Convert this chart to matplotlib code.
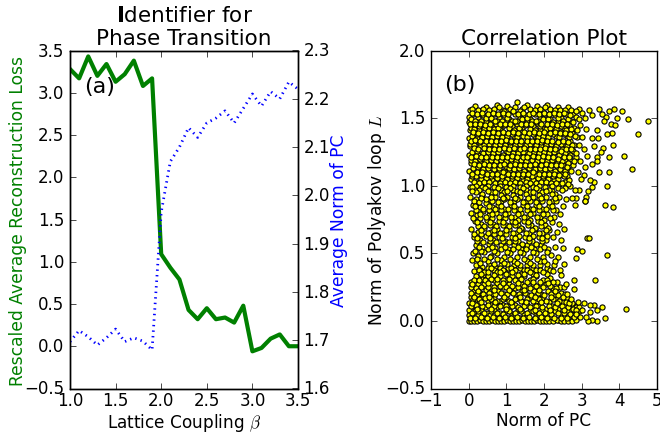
import matplotlib
matplotlib.use('Agg')
import matplotlib.pyplot as plt

beta = [1.0, 1.1, 1.2, 1.3, 1.4, 1.5, 1.6, 1.7, 1.8, 1.9, 2.0, 2.1, 2.2, 2.3, 2.4, 2.5, 2.6, 2.7, 2.8, 2.9, 3.0, 3.1, 3.2, 3.3, 3.4, 3.5]
recon_loss = [3.28, 3.17, 3.43, 3.2, 3.34, 3.13, 3.22, 3.38, 3.08, 3.17, 1.09, 0.93, 0.79, 0.43, 0.32, 0.45, 0.32, 0.34, 0.28, 0.48, -0.06, -0.02, 0.09, 0.14, 0.0, 0.0]
pc_mean = [1.697, 1.72, 1.707, 1.69, 1.705, 1.723, 1.697, 1.705, 1.698, 1.68, 1.965, 2.07, 2.1, 2.14, 2.12, 2.15, 2.16, 2.175, 2.15, 2.18, 2.21, 2.185, 2.215, 2.2, 2.235, 2.22]

# stragglers on the right edge of the cloud
outliers = [(4.75,1.48),(4.5,1.38),(4.23,1.49),(4.06,1.55),(3.86,1.57),(3.73,1.55),(3.94,1.5),(3.78,1.46),(3.88,1.45),(3.8,1.39),
    (3.66,1.38),(3.84,1.3),(4.13,1.22),(3.73,1.21),(4.33,1.12),(3.72,1.1),(3.47,1.1),(3.68,1.0),(3.56,1.28),(3.51,1.25),
    (3.42,1.21),(3.41,1.18),(3.27,1.16),(3.63,0.86),(3.84,0.84),(3.44,1.35),(3.28,1.35),(3.34,1.29),(3.15,1.22),(3.18,0.96),
    (3.12,0.92),(3.08,0.89),(3.27,0.99),(3.33,1.03),(3.21,1.04),(3.06,1.08),(2.99,1.05),(2.93,0.97),(2.82,0.97),(2.86,0.91),
    (2.75,0.91),(2.83,0.86),(3.46,1.57),(3.64,1.51),(3.59,1.48),(3.42,1.41),(3.28,1.52),(3.55,1.53),(3.2,1.56),(3.1,1.5),
    (3.0,1.54),(3.12,1.42),(3.02,1.36),(2.92,1.3),(3.05,1.27),(2.95,1.18),(2.85,1.24),(3.08,1.14),(2.9,1.1),
    (4.19,0.09),(3.63,0.02),(3.55,0.1),(3.42,0.0),(3.34,0.115),(3.21,0.12),(3.42,0.08),(3.28,0.01),(3.16,0.0),(3.12,0.03),
    (3.23,0.065),(3.36,0.3),(2.8,0.305),(2.58,0.27),(2.8,0.235),(3.68,0.485),(3.13,0.61),(3.19,0.615),(2.87,0.535),(3.0,0.515),
    (2.84,0.465),(2.44,0.34),(3.09,0.89),(2.9,0.14),(3.0,0.08),(3.05,0.13),(2.95,0.03),(2.85,0.05),(2.72,0.16),(2.62,0.2)]

upper_cloud = [(0.03,1.56),(0.18,1.59),(0.3,1.55),(0.47,1.58),(0.6,1.54),(0.74,1.6),(0.88,1.56),(1.02,1.59),(1.15,1.55),(1.28,1.62),(1.41,1.57),(1.55,1.6),(1.68,1.55),(1.82,1.59),(1.95,1.56),(2.09,1.6),(2.22,1.55),(2.36,1.58),(2.5,1.54),(2.65,1.58),(2.78,1.53),(2.92,1.57),
    (0.02,1.51),(0.12,1.53),(0.25,1.5),(0.39,1.52),(0.53,1.49),(0.67,1.53),(0.8,1.5),(0.95,1.52),(1.08,1.49),(1.22,1.53),(1.35,1.5),(1.49,1.52),(1.62,1.49),(1.76,1.53),(1.9,1.5),(2.03,1.53),(2.16,1.49),(2.3,1.52),(2.44,1.5),(2.58,1.53),(2.71,1.48),(2.85,1.51),
    (0.0,1.47),(0.09,1.45),(0.21,1.47),(0.34,1.44),(0.46,1.47),(0.6,1.44),(0.73,1.46),(0.86,1.43),(1.0,1.47),(1.14,1.44),(1.27,1.46),(1.42,1.43),(1.56,1.47),(1.7,1.44),(1.83,1.46),(1.97,1.43),(2.1,1.46),(2.24,1.44),(2.38,1.47),(2.52,1.43),(2.66,1.45),(2.8,1.43),(2.96,1.45),
    (0.03,1.41),(0.15,1.39),(0.28,1.41),(0.41,1.38),(0.55,1.4),(0.68,1.38),(0.82,1.41),(0.94,1.38),(1.08,1.4),(1.21,1.37),(1.35,1.41),(1.5,1.38),(1.63,1.4),(1.77,1.37),(1.9,1.41),(2.04,1.38),(2.18,1.4),(2.32,1.37),(2.46,1.4),(2.6,1.37),(2.74,1.39),(2.88,1.36),
    (0.0,1.35),(0.08,1.33),(0.22,1.35),(0.35,1.32),(0.49,1.34),(0.62,1.31),(0.76,1.34),(0.89,1.32),(1.03,1.35),(1.17,1.32),(1.3,1.34),(1.44,1.31),(1.58,1.34),(1.71,1.32),(1.85,1.35),(1.98,1.32),(2.12,1.34),(2.26,1.31),(2.4,1.34),(2.53,1.31),(2.68,1.33),(2.8,1.3),
    (0.04,1.29),(0.17,1.27),(0.3,1.29),(0.44,1.26),(0.57,1.28),(0.71,1.25),(0.84,1.28),(0.98,1.26),(1.11,1.29),(1.25,1.26),(1.39,1.28),(1.52,1.25),(1.66,1.28),(1.8,1.26),(1.93,1.29),(2.07,1.26),(2.2,1.28),(2.34,1.25),(2.48,1.27),(2.62,1.25),(2.76,1.26),
    (0.01,1.23),(0.11,1.21),(0.25,1.23),(0.38,1.2),(0.52,1.22),(0.65,1.19),(0.79,1.22),(0.92,1.2),(1.06,1.23),(1.2,1.2),(1.33,1.22),(1.47,1.19),(1.6,1.22),(1.74,1.2),(1.88,1.23),(2.01,1.2),(2.15,1.22),(2.29,1.19),(2.42,1.21),(2.56,1.19),(2.7,1.2),
    (0.05,1.17),(0.19,1.15),(0.32,1.17),(0.46,1.14),(0.59,1.16),(0.73,1.13),(0.87,1.16),(1.0,1.14),(1.14,1.17),(1.27,1.14),(1.41,1.16),(1.55,1.13),(1.68,1.16),(1.82,1.14),(1.96,1.17),(2.09,1.14),(2.23,1.16),(2.37,1.13),(2.5,1.15),(2.64,1.12),(2.78,1.15),
    (0.02,1.11),(0.13,1.09),(0.27,1.11),(0.4,1.08),(0.54,1.1),(0.68,1.07),(0.81,1.1),(0.95,1.08),(1.08,1.11),(1.22,1.08),(1.36,1.1),(1.49,1.07),(1.63,1.1),(1.77,1.08),(1.9,1.11),(2.04,1.08),(2.18,1.1),(2.31,1.07),(2.45,1.09),(2.6,1.07),
    (0.06,1.05),(0.21,1.03),(0.34,1.05),(0.48,1.02),(0.61,1.04),(0.75,1.01),(0.89,1.04),(1.02,1.02),(1.16,1.05),(1.3,1.02),(1.43,1.04),(1.57,1.01),(1.71,1.04),(1.84,1.02),(1.98,1.05),(2.12,1.02),(2.26,1.04),(2.4,1.01),(2.56,1.03),(2.7,1.0)]

upper_fill = [(0.1,1.57),(0.24,1.56),(0.38,1.57),(0.53,1.56),(0.67,1.57),(0.81,1.58),(0.95,1.55),(1.09,1.57),(1.22,1.58),(1.35,1.55),(1.48,1.58),(1.62,1.57),(1.75,1.56),(1.89,1.57),(2.02,1.58),(2.16,1.57),(2.29,1.56),(2.43,1.56),(2.57,1.56),(2.72,1.56),(2.86,1.55),
    (0.06,1.49),(0.18,1.48),(0.32,1.48),(0.46,1.5),(0.6,1.5),(0.74,1.48),(0.88,1.48),(1.02,1.5),(1.15,1.48),(1.29,1.48),(1.42,1.49),(1.56,1.5),(1.69,1.48),(1.83,1.48),(1.97,1.49),(2.1,1.49),(2.23,1.47),(2.37,1.5),(2.51,1.48),(2.65,1.49),(2.78,1.47),(2.92,1.49),
    (0.06,1.43),(0.13,1.42),(0.27,1.44),(0.4,1.42),(0.53,1.43),(0.66,1.42),(0.79,1.43),(0.93,1.45),(1.07,1.43),(1.2,1.41),(1.34,1.43),(1.49,1.45),(1.63,1.42),(1.76,1.41),(1.9,1.44),(2.04,1.42),(2.17,1.43),(2.31,1.42),(2.45,1.44),(2.59,1.41),(2.73,1.42),(2.87,1.41),
    (0.09,1.37),(0.22,1.38),(0.35,1.36),(0.48,1.37),(0.61,1.36),(0.75,1.37),(0.88,1.36),(1.01,1.37),(1.14,1.38),(1.28,1.36),(1.43,1.37),(1.56,1.36),(1.7,1.38),(1.84,1.36),(1.97,1.37),(2.11,1.36),(2.25,1.38),(2.39,1.36),(2.53,1.38),(2.67,1.36),(2.81,1.37),
    (0.04,1.31),(0.15,1.3),(0.28,1.32),(0.42,1.3),(0.55,1.31),(0.69,1.3),(0.82,1.31),(0.96,1.3),(1.1,1.32),(1.23,1.3),(1.37,1.31),(1.51,1.3),(1.64,1.31),(1.78,1.3),(1.91,1.32),(2.05,1.3),(2.19,1.31),(2.33,1.29),(2.46,1.31),(2.6,1.29),(2.74,1.3),
    (0.1,1.25),(0.23,1.26),(0.37,1.24),(0.5,1.25),(0.64,1.24),(0.77,1.25),(0.91,1.23),(1.04,1.25),(1.18,1.24),(1.32,1.24),(1.45,1.25),(1.59,1.24),(1.73,1.25),(1.86,1.24),(2.0,1.25),(2.13,1.24),(2.27,1.25),(2.41,1.23),(2.55,1.24),(2.69,1.23),(2.84,1.21),
    (0.06,1.19),(0.18,1.18),(0.31,1.2),(0.45,1.18),(0.58,1.19),(0.72,1.18),(0.85,1.19),(0.99,1.18),(1.13,1.2),(1.26,1.18),(1.4,1.19),(1.53,1.18),(1.67,1.19),(1.81,1.18),(1.94,1.19),(2.08,1.18),(2.22,1.19),(2.35,1.17),(2.49,1.18),(2.63,1.17),(2.8,1.18),
    (0.12,1.13),(0.25,1.14),(0.39,1.12),(0.52,1.13),(0.66,1.12),(0.8,1.13),(0.93,1.11),(1.07,1.13),(1.2,1.12),(1.34,1.13),(1.48,1.11),(1.61,1.13),(1.75,1.12),(1.89,1.13),(2.02,1.12),(2.16,1.13),(2.3,1.11),(2.43,1.12),(2.57,1.11),(2.72,1.11),
    (0.08,1.07),(0.2,1.07),(0.33,1.08),(0.47,1.06),(0.6,1.07),(0.74,1.06),(0.88,1.07),(1.01,1.05),(1.15,1.07),(1.28,1.06),(1.42,1.07),(1.56,1.05),(1.69,1.07),(1.83,1.06),(1.97,1.07),(2.1,1.05),(2.24,1.07),(2.38,1.05),(2.52,1.07),(2.66,1.04)]

upper_gaps = [(0.08,1.54),(0.21,1.53),(0.36,1.54),(0.5,1.53),(0.64,1.54),(0.78,1.53),(0.91,1.54),(1.05,1.53),(1.19,1.55),(1.32,1.53),(1.45,1.54),(1.59,1.53),(1.72,1.54),(1.86,1.53),(1.99,1.54),(2.13,1.53),(2.26,1.54),(2.4,1.53),(2.54,1.54),(2.68,1.52),
    (0.04,1.46),(0.16,1.46),(0.3,1.46),(0.43,1.45),(0.57,1.46),(0.7,1.48),(0.83,1.46),(0.97,1.46),(1.11,1.46),(1.24,1.48),(1.38,1.46),(1.52,1.46),(1.66,1.46),(1.79,1.48),(1.93,1.46),(2.07,1.46),(2.21,1.46),(2.34,1.45),(2.48,1.46),(2.62,1.46),
    (0.11,1.4),(0.24,1.39),(0.37,1.4),(0.51,1.39),(0.64,1.4),(0.77,1.39),(0.91,1.4),(1.04,1.39),(1.18,1.4),(1.32,1.39),(1.46,1.4),(1.6,1.39),(1.73,1.4),(1.87,1.39),(2.01,1.4),(2.15,1.39),(2.28,1.4),(2.42,1.39),(2.56,1.39),(2.7,1.38),
    (0.05,1.33),(0.18,1.34),(0.31,1.33),(0.45,1.33),(0.58,1.33),(0.72,1.33),(0.85,1.33),(0.99,1.34),(1.13,1.33),(1.26,1.33),(1.4,1.33),(1.54,1.33),(1.67,1.33),(1.81,1.33),(1.94,1.34),(2.08,1.33),(2.22,1.33),(2.36,1.32),(2.5,1.33),(2.64,1.32),
    (0.13,1.28),(0.26,1.27),(0.4,1.28),(0.53,1.27),(0.67,1.27),(0.8,1.27),(0.94,1.28),(1.07,1.27),(1.21,1.28),(1.35,1.27),(1.48,1.28),(1.62,1.27),(1.76,1.27),(1.89,1.27),(2.03,1.28),(2.16,1.27),(2.3,1.27),(2.44,1.26),(2.58,1.27),(2.72,1.27),
    (0.07,1.21),(0.2,1.22),(0.34,1.21),(0.47,1.21),(0.61,1.21),(0.74,1.21),(0.88,1.21),(1.02,1.21),(1.15,1.22),(1.29,1.21),(1.43,1.21),(1.56,1.21),(1.7,1.22),(1.84,1.21),(1.98,1.22),(2.11,1.21),(2.25,1.21),(2.38,1.2),(2.52,1.21),(2.66,1.21),
    (0.14,1.16),(0.28,1.15),(0.41,1.16),(0.55,1.15),(0.68,1.15),(0.82,1.15),(0.95,1.16),(1.09,1.15),(1.23,1.16),(1.36,1.15),(1.5,1.15),(1.64,1.15),(1.77,1.16),(1.91,1.15),(2.05,1.16),(2.18,1.15),(2.32,1.15),(2.46,1.15),(2.6,1.14),
    (0.08,1.09),(0.22,1.1),(0.35,1.1),(0.49,1.09),(0.63,1.09),(0.76,1.09),(0.9,1.1),(1.04,1.09),(1.17,1.09),(1.31,1.09),(1.45,1.09),(1.58,1.09),(1.72,1.1),(1.86,1.09),(1.99,1.09),(2.13,1.09),(2.27,1.09),(2.41,1.08),(2.55,1.09),
    (0.14,1.03),(0.28,1.02),(0.41,1.03),(0.55,1.03),(0.69,1.02),(0.82,1.02),(0.96,1.03),(1.1,1.02),(1.23,1.03),(1.37,1.02),(1.51,1.03),(1.64,1.02),(1.78,1.02),(1.92,1.03),(2.05,1.03),(2.19,1.02),(2.33,1.02),(2.48,1.02),(2.63,1.01)]

seams = [(0.04,0.99),(0.2,1.0),(0.36,0.99),(0.52,1.0),(0.68,0.99),(0.84,1.0),(1.0,0.99),(1.18,1.0),(1.35,0.99),(1.52,1.0),(1.7,0.99),(1.87,1.0),(2.03,0.99),(2.2,1.0),(2.38,0.98),(2.56,0.98),
    (0.16,0.97),(0.52,0.97),(0.86,0.97),(1.19,0.97),(1.53,0.97),(1.87,0.97),(2.21,0.96),
    (0.2,0.41),(0.36,0.4),(0.54,0.41),(0.7,0.4),(0.87,0.41),(1.04,0.39),(1.2,0.41),(1.37,0.39),(1.54,0.41),(1.72,0.39),(1.9,0.41),(2.08,0.39),(2.26,0.41),(2.42,0.38),
    (0.3,0.38),(0.5,0.39),(0.82,0.39),(1.13,0.39),(1.46,0.38),(1.8,0.38),(2.16,0.38),(0.14,0.37),(0.38,0.34),(0.66,0.38),(0.94,0.37)]

middle_cloud = [(0.1,0.99),(0.28,0.97),(0.44,0.98),(0.6,0.95),(0.77,0.98),(0.93,0.95),(1.1,0.98),(1.27,0.96),(1.44,0.98),(1.62,0.95),(1.78,0.98),(1.95,0.95),(2.12,0.97),(2.3,0.94),(2.47,0.97),
    (0.04,0.92),(0.2,0.9),(0.36,0.93),(0.53,0.9),(0.7,0.92),(0.86,0.89),(1.02,0.92),(1.2,0.89),(1.36,0.92),(1.53,0.89),(1.7,0.92),(1.87,0.9),(2.04,0.92),(2.22,0.89),(2.39,0.92),(2.58,0.9),
    (0.12,0.86),(0.29,0.84),(0.46,0.87),(0.62,0.84),(0.79,0.86),(0.95,0.83),(1.12,0.86),(1.29,0.83),(1.45,0.86),(1.62,0.83),(1.79,0.86),(1.96,0.83),(2.14,0.85),(2.31,0.82),(2.5,0.85),
    (0.07,0.8),(0.23,0.78),(0.39,0.81),(0.55,0.78),(0.72,0.8),(0.88,0.77),(1.05,0.8),(1.22,0.77),(1.38,0.8),(1.55,0.77),(1.72,0.8),(1.9,0.77),(2.08,0.79),(2.26,0.77),(2.42,0.79),
    (0.16,0.74),(0.32,0.72),(0.48,0.75),(0.65,0.72),(0.81,0.74),(0.98,0.71),(1.15,0.74),(1.31,0.71),(1.48,0.74),(1.66,0.71),(1.84,0.74),(2.02,0.71),(2.2,0.73),(2.4,0.72),
    (0.05,0.68),(0.24,0.66),(0.42,0.69),(0.58,0.66),(0.74,0.68),(0.91,0.65),(1.08,0.68),(1.25,0.65),(1.42,0.68),(1.6,0.65),(1.77,0.68),(1.95,0.65),(2.14,0.67),(2.34,0.66),(2.54,0.68),
    (0.14,0.62),(0.3,0.6),(0.47,0.63),(0.64,0.6),(0.8,0.62),(0.97,0.59),(1.14,0.62),(1.32,0.59),(1.5,0.62),(1.68,0.59),(1.86,0.62),(2.05,0.6),(2.24,0.62),(2.46,0.6),
    (0.2,0.56),(0.36,0.54),(0.53,0.57),(0.7,0.54),(0.87,0.56),(1.04,0.53),(1.2,0.56),(1.38,0.53),(1.56,0.56),(1.74,0.53),(1.92,0.56),(2.1,0.53),(2.3,0.55),(2.5,0.54),
    (0.12,0.5),(0.26,0.48),(0.42,0.51),(0.6,0.48),(0.76,0.5),(0.93,0.47),(1.1,0.5),(1.27,0.47),(1.44,0.5),(1.62,0.47),(1.8,0.5),(1.98,0.47),(2.18,0.49),(2.36,0.47),
    (0.1,0.45),(0.3,0.43),(0.5,0.44),(0.68,0.42),(0.85,0.45),(1.02,0.42),(1.2,0.44),(1.36,0.41),(1.54,0.44),(1.72,0.41),(1.9,0.44),(2.08,0.42),(2.3,0.44),(2.52,0.42)]

middle_fill = [(0.19,0.95),(0.36,0.94),(0.52,0.96),(0.69,0.95),(0.85,0.93),(1.02,0.96),(1.18,0.93),(1.35,0.95),(1.53,0.94),(1.7,0.95),(1.87,0.93),(2.04,0.96),(2.21,0.94),
    (0.13,0.89),(0.28,0.88),(0.45,0.9),(0.62,0.89),(0.78,0.88),(0.95,0.9),(1.11,0.88),(1.28,0.9),(1.45,0.88),(1.62,0.89),(1.79,0.88),(1.96,0.89),(2.13,0.88),(2.31,0.89),
    (0.2,0.82),(0.38,0.83),(0.54,0.82),(0.71,0.83),(0.87,0.82),(1.04,0.83),(1.2,0.82),(1.37,0.83),(1.54,0.82),(1.71,0.83),(1.88,0.82),(2.05,0.83),(2.23,0.82),
    (0.12,0.76),(0.3,0.76),(0.47,0.77),(0.63,0.76),(0.8,0.77),(0.96,0.76),(1.13,0.77),(1.3,0.75),(1.47,0.77),(1.64,0.75),(1.81,0.77),(1.99,0.75),(2.17,0.76),
    (0.25,0.7),(0.4,0.7),(0.57,0.71),(0.73,0.7),(0.9,0.71),(1.06,0.7),(1.23,0.71),(1.4,0.69),(1.57,0.71),(1.75,0.69),(1.93,0.7),(2.1,0.69),
    (0.15,0.64),(0.33,0.64),(0.5,0.65),(0.66,0.64),(0.83,0.65),(1.0,0.64),(1.17,0.65),(1.34,0.63),(1.52,0.65),(1.7,0.63),(1.88,0.65),(2.07,0.63),
    (0.22,0.59),(0.39,0.58),(0.56,0.59),(0.73,0.58),(0.9,0.59),(1.07,0.58),(1.24,0.59),(1.42,0.57),(1.6,0.59),(1.78,0.57),(1.96,0.59),
    (0.18,0.52),(0.34,0.52),(0.51,0.53),(0.68,0.52),(0.85,0.53),(1.01,0.51),(1.18,0.53),(1.35,0.51),(1.53,0.53),(1.71,0.51),(1.89,0.53),(2.07,0.51),
    (0.22,0.46),(0.4,0.46),(0.57,0.47),(0.75,0.46),(0.93,0.43),(1.1,0.46),(1.28,0.43),(1.46,0.46),(1.63,0.43),(1.81,0.46),(2.0,0.44),
    (0.09,0.96),(0.32,0.91),(0.6,0.92),(0.9,0.91),(1.24,0.91),(1.58,0.91),(1.92,0.91),(2.28,0.91),(0.18,0.85),(0.53,0.85),(0.87,0.85),(1.21,0.85),(1.54,0.85),(1.88,0.85),(2.22,0.85),
    (0.3,0.79),(0.63,0.79),(0.97,0.79),(1.3,0.79),(1.63,0.79),(1.98,0.79),(0.22,0.73),(0.56,0.73),(0.9,0.73),(1.23,0.73),(1.57,0.73),(1.93,0.73),(0.33,0.67),(0.66,0.67),(1.0,0.67),(1.34,0.67),(1.68,0.67),(2.04,0.67),
    (0.22,0.61),(0.56,0.61),(0.89,0.61),(1.23,0.61),(1.59,0.61),(1.95,0.61),(0.28,0.55),(0.62,0.55),(0.96,0.55),(1.3,0.55),(1.65,0.55),(2.0,0.55)]

lower_cloud = [(0.28,0.38),(0.42,0.36),(0.58,0.39),(0.74,0.36),(0.9,0.38),(1.06,0.35),(1.22,0.38),(1.38,0.35),(1.55,0.38),(1.72,0.35),(1.9,0.38),(2.08,0.35),(2.25,0.37),
    (0.2,0.33),(0.36,0.31),(0.5,0.33),(0.66,0.3),(0.82,0.33),(0.98,0.3),(1.14,0.33),(1.3,0.3),(1.46,0.33),(1.63,0.3),(1.8,0.33),(1.98,0.3),(2.16,0.32),(2.34,0.29),
    (0.06,0.29),(0.26,0.27),(0.42,0.27),(0.58,0.25),(0.74,0.28),(0.9,0.25),(1.06,0.27),(1.22,0.24),(1.38,0.27),(1.54,0.24),(1.7,0.27),(1.88,0.24),(2.06,0.27),(2.24,0.24),(2.42,0.25),
    (0.14,0.23),(0.3,0.21),(0.46,0.23),(0.62,0.2),(0.78,0.22),(0.94,0.2),(1.1,0.22),(1.26,0.19),(1.42,0.22),(1.58,0.19),(1.74,0.22),(1.92,0.2),(2.1,0.22),(2.28,0.19),(2.46,0.21),(2.6,0.17),
    (0.05,0.18),(0.2,0.16),(0.36,0.18),(0.52,0.15),(0.68,0.17),(0.84,0.15),(1.0,0.17),(1.16,0.14),(1.32,0.17),(1.48,0.14),(1.64,0.17),(1.8,0.15),(1.96,0.17),(2.14,0.14),(2.32,0.16),(2.5,0.14),(2.68,0.15),(2.78,0.12),
    (0.0,0.13),(0.12,0.11),(0.28,0.13),(0.44,0.1),(0.6,0.12),(0.76,0.1),(0.92,0.12),(1.08,0.09),(1.24,0.12),(1.4,0.09),(1.56,0.12),(1.72,0.1),(1.88,0.12),(2.04,0.09),(2.2,0.11),(2.38,0.09),(2.56,0.11),(2.7,0.08),(2.84,0.1),
    (0.02,0.08),(0.18,0.07),(0.34,0.08),(0.5,0.06),(0.66,0.08),(0.82,0.06),(0.98,0.07),(1.14,0.05),(1.3,0.08),(1.46,0.05),(1.62,0.07),(1.78,0.05),(1.94,0.08),(2.1,0.05),(2.28,0.07),(2.46,0.05),(2.62,0.07),(2.78,0.05),(2.92,0.07),
    (0.0,0.04),(0.1,0.03),(0.24,0.04),(0.4,0.02),(0.56,0.04),(0.72,0.02),(0.88,0.03),(1.04,0.02),(1.2,0.04),(1.36,0.02),(1.52,0.03),(1.68,0.01),(1.84,0.04),(2.0,0.02),(2.18,0.03),(2.36,0.01),(2.54,0.03),(2.7,0.01),
    (0.0,0.0),(0.07,0.0),(0.15,0.0),(0.22,0.0),(0.3,0.01),(0.38,0.0),(0.46,0.0),(0.54,0.0),(0.62,0.01),(0.7,0.0),(0.78,0.0),(0.86,0.0),(0.94,0.0),(1.02,0.01),(1.1,0.0),(1.18,0.0),(1.26,0.0),(1.34,0.0),(1.42,0.01),(1.5,0.0),(1.58,0.0),(1.66,0.0),(1.74,0.0),(1.82,0.01),(1.9,0.0),(1.98,0.0),(2.06,0.0),(2.14,0.0),(2.24,0.0),(2.34,0.01),(2.44,0.0),(2.54,0.0),(2.64,0.0),(2.74,0.0),(2.84,0.01)]

lower_fill = [(0.33,0.35),(0.5,0.36),(0.66,0.34),(0.82,0.36),(0.98,0.35),(1.14,0.36),(1.3,0.34),(1.46,0.35),(1.63,0.36),(1.8,0.34),(1.98,0.36),
    (0.13,0.3),(0.28,0.3),(0.44,0.3),(0.58,0.31),(0.74,0.31),(0.9,0.3),(1.06,0.31),(1.22,0.3),(1.38,0.31),(1.54,0.29),(1.72,0.31),(1.89,0.29),(2.07,0.3),(2.25,0.29),
    (0.07,0.25),(0.2,0.24),(0.34,0.25),(0.5,0.25),(0.66,0.25),(0.82,0.26),(0.98,0.25),(1.14,0.26),(1.3,0.25),(1.46,0.26),(1.62,0.24),(1.79,0.26),(1.97,0.25),(2.15,0.26),(2.33,0.24),(2.52,0.25),
    (0.07,0.21),(0.22,0.2),(0.38,0.2),(0.54,0.21),(0.7,0.2),(0.86,0.21),(1.02,0.2),(1.18,0.21),(1.34,0.2),(1.5,0.21),(1.66,0.19),(1.83,0.21),(2.01,0.19),(2.19,0.2),(2.37,0.19),(2.55,0.2),
    (0.12,0.16),(0.28,0.16),(0.44,0.17),(0.6,0.16),(0.76,0.15),(0.92,0.16),(1.08,0.15),(1.24,0.16),(1.4,0.15),(1.56,0.16),(1.72,0.15),(1.88,0.16),(2.05,0.15),(2.23,0.16),(2.41,0.15),(2.59,0.14),(2.74,0.13),
    (0.05,0.11),(0.2,0.12),(0.36,0.11),(0.52,0.12),(0.68,0.11),(0.84,0.11),(1.0,0.11),(1.16,0.11),(1.32,0.1),(1.48,0.11),(1.64,0.1),(1.8,0.11),(1.96,0.1),(2.12,0.11),(2.3,0.1),(2.47,0.11),(2.64,0.1),(2.78,0.09),(2.93,0.1),
    (0.08,0.06),(0.26,0.07),(0.42,0.06),(0.58,0.07),(0.74,0.06),(0.9,0.05),(1.06,0.07),(1.22,0.06),(1.38,0.07),(1.54,0.06),(1.7,0.07),(1.86,0.06),(2.02,0.06),(2.19,0.05),(2.37,0.06),(2.54,0.06),(2.7,0.05),(2.86,0.06),
    (0.04,0.02),(0.17,0.02),(0.32,0.03),(0.48,0.02),(0.64,0.03),(0.8,0.02),(0.96,0.03),(1.12,0.02),(1.28,0.03),(1.44,0.02),(1.6,0.03),(1.76,0.02),(1.92,0.03),(2.09,0.02),(2.27,0.02),(2.45,0.02),(2.62,0.02),(2.79,0.03),
    (0.1,0.27),(0.5,0.28),(0.9,0.28),(1.3,0.28),(1.7,0.29),(2.1,0.28),(0.25,0.22),(0.66,0.23),(1.06,0.23),(1.46,0.23),(1.86,0.23),(2.3,0.22),(0.15,0.18),(0.55,0.18),(0.95,0.18),(1.35,0.18),(1.75,0.18),(2.18,0.18),(2.5,0.18),
    (0.09,0.135),(0.33,0.14),(0.7,0.14),(1.12,0.14),(1.52,0.14),(1.93,0.14),(2.34,0.13),(2.66,0.13),(0.22,0.09),(0.6,0.09),(1.0,0.09),(1.36,0.09),(1.76,0.08),(2.16,0.08),(2.52,0.08),(2.84,0.08)]

all_pts = upper_cloud + upper_fill + upper_gaps + seams + middle_cloud + middle_fill + lower_cloud + lower_fill + outliers
pc_norm = [p[0] for p in all_pts]
loop_norm = [p[1] for p in all_pts]

plt.style.use('classic')
plt.rcParams['font.family'] = ['DejaVu Sans']
plt.rcParams['axes.linewidth'] = 1.0

fig = plt.figure(figsize=(6.6, 4.35), facecolor='white')

ax1 = fig.add_axes([70/660, 1-389.5/435, 228/660, 338/435])
ax1.plot(beta, recon_loss, color='green', lw=3)
ax1.set_xlim(1.0, 3.5)
ax1.set_ylim(-0.5, 3.5)
ax1.set_xlabel(r'Lattice Coupling $\beta$', fontsize=12.2, labelpad=1)
ax1.set_ylabel('Rescaled Average Reconstruction Loss', color='green', fontsize=12.3, labelpad=-2)
ax1.tick_params(labelsize=12)
ax1.tick_params(axis='x', pad=2)
ax1.set_title('$\\mathbf{I}$dentifier for\nPhase Transition', fontsize=15.5, pad=4.5, math_fontfamily='dejavusans')
ax1.text(1.15, 3.08, '(a)', fontsize=16, va='center')

ax2 = ax1.twinx()
ax2.plot(beta, pc_mean, color='blue', lw=2, ls=':')
ax2.set_xlim(1.0, 3.5)
ax2.set_ylim(1.6, 2.3)
ax2.set_ylabel('Average Norm of PC', color='blue', fontsize=12.3, labelpad=0)
ax2.tick_params(labelsize=12)

ax3 = fig.add_axes([431/660, 1-389.5/435, 226/660, 338/435])
ax3.scatter(pc_norm, loop_norm, s=14, c='yellow', edgecolors='black', linewidths=0.8)
ax3.set_xlim(-1, 5)
ax3.set_ylim(-0.5, 2.0)
ax3.set_xlabel('Norm of PC', fontsize=12.2, labelpad=1)
ax3.set_ylabel('Norm of Polyakov loop $L$', fontsize=12.3, labelpad=-2)
ax3.tick_params(labelsize=12)
ax3.tick_params(axis='x', pad=2)
ax3.set_title('Correlation Plot', fontsize=15.5, pad=5)
ax3.text(-0.65, 1.75, '(b)', fontsize=16, va='center')

fig.savefig('out.png', dpi=100)
